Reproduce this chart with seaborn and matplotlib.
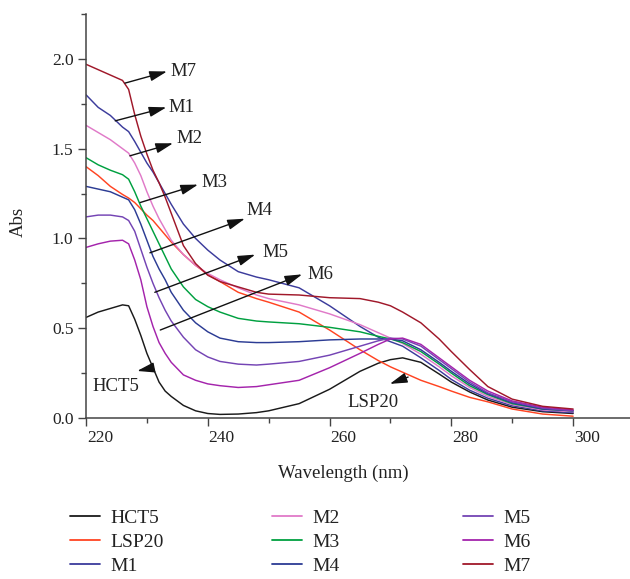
import numpy as np
import pandas as pd
import matplotlib
matplotlib.use('Agg')
import matplotlib.pyplot as plt
import matplotlib.transforms as mtransforms
from matplotlib.ticker import MultipleLocator
from matplotlib.lines import Line2D
import seaborn as sns

# wavelength grid (nm)
wavelength = [220, 222, 224, 226, 227, 228, 229, 230, 231, 232, 233, 234, 236, 238,
              240, 242, 245, 248, 250, 255, 260, 265, 268, 270, 272, 275, 278, 280,
              283, 286, 290, 295, 300]

hct5 = [0.56, 0.59, 0.61, 0.63, 0.625, 0.55, 0.46, 0.36, 0.28, 0.20, 0.15, 0.12, 0.07, 0.04,
        0.025, 0.02, 0.022, 0.03, 0.04, 0.08, 0.16, 0.26, 0.305, 0.325, 0.335, 0.31, 0.245, 0.20,
        0.145, 0.10, 0.06, 0.035, 0.025]
lsp20 = [1.40, 1.35, 1.29, 1.245, 1.225, 1.20, 1.165, 1.13, 1.10, 1.06, 1.02, 0.98, 0.91, 0.85,
         0.80, 0.76, 0.70, 0.665, 0.645, 0.59, 0.49, 0.38, 0.32, 0.285, 0.255, 0.21, 0.175, 0.15,
         0.115, 0.09, 0.05, 0.022, 0.01]
m1 = [1.80, 1.73, 1.685, 1.62, 1.595, 1.54, 1.48, 1.42, 1.37, 1.31, 1.25, 1.19, 1.08, 1.0,
      0.935, 0.88, 0.815, 0.785, 0.77, 0.725, 0.625, 0.51, 0.45, 0.425, 0.40, 0.335, 0.265, 0.215,
      0.155, 0.11, 0.068, 0.04, 0.03]
m2 = [1.63, 1.59, 1.55, 1.50, 1.475, 1.42, 1.35, 1.26, 1.18, 1.11, 1.05, 0.99, 0.91, 0.85,
      0.805, 0.77, 0.725, 0.685, 0.665, 0.63, 0.58, 0.52, 0.475, 0.445, 0.415, 0.355, 0.285, 0.235,
      0.17, 0.12, 0.075, 0.045, 0.035]
m3 = [1.45, 1.41, 1.38, 1.355, 1.33, 1.26, 1.18, 1.11, 1.04, 0.97, 0.90, 0.83, 0.73, 0.66,
      0.62, 0.59, 0.555, 0.54, 0.535, 0.525, 0.505, 0.48, 0.455, 0.44, 0.42, 0.37, 0.30, 0.25,
      0.18, 0.13, 0.08, 0.05, 0.04]
m4 = [1.29, 1.275, 1.26, 1.23, 1.215, 1.16, 1.08, 0.99, 0.90, 0.83, 0.77, 0.70, 0.60, 0.53,
      0.48, 0.445, 0.425, 0.42, 0.42, 0.425, 0.435, 0.44, 0.44, 0.44, 0.43, 0.38, 0.31, 0.26,
      0.19, 0.135, 0.085, 0.05, 0.04]
m5 = [1.12, 1.13, 1.13, 1.12, 1.10, 1.04, 0.94, 0.84, 0.75, 0.67, 0.60, 0.54, 0.45, 0.38,
      0.34, 0.315, 0.30, 0.295, 0.30, 0.315, 0.35, 0.40, 0.43, 0.445, 0.44, 0.40, 0.325, 0.275,
      0.20, 0.14, 0.09, 0.055, 0.04]
m6 = [0.95, 0.97, 0.985, 0.99, 0.97, 0.88, 0.77, 0.62, 0.51, 0.42, 0.36, 0.31, 0.24, 0.21,
      0.19, 0.18, 0.17, 0.175, 0.185, 0.21, 0.28, 0.36, 0.41, 0.44, 0.445, 0.41, 0.335, 0.285,
      0.21, 0.15, 0.095, 0.06, 0.045]
m7 = [1.97, 1.94, 1.91, 1.88, 1.83, 1.69, 1.57, 1.47, 1.38, 1.31, 1.23, 1.14, 0.96, 0.86,
      0.795, 0.76, 0.73, 0.70, 0.69, 0.685, 0.67, 0.665, 0.645, 0.625, 0.59, 0.53, 0.44, 0.37,
      0.27, 0.175, 0.105, 0.065, 0.05]

names = ['HCT5', 'LSP20', 'M1', 'M2', 'M3', 'M4', 'M5', 'M6', 'M7']
series = [hct5, lsp20, m1, m2, m3, m4, m5, m6, m7]
colors = ['#1a1a1a', '#ff4422', '#3c3c9c', '#e07ac8', '#00a040',
          '#2c3c94', '#7444b4', '#a424ac', '#a0182a']

# label text position, arrow start (on curve), arrow tip
labels = {
    'M7': ((233.8, 1.93), (226.4, 1.865), (233.3, 1.93)),
    'M1': ((233.6, 1.73), (224.8, 1.655), (233.2, 1.73)),
    'M2': ((234.8, 1.555), (227.2, 1.46), (234.3, 1.53)),
    'M3': ((239.0, 1.31), (228.9, 1.20), (238.4, 1.30)),
    'M4': ((246.4, 1.155), (230.5, 0.92), (246.1, 1.11)),
    'M5': ((248.9, 0.92), (231.3, 0.70), (247.8, 0.91)),
    'M6': ((256.4, 0.80), (232.2, 0.49), (255.5, 0.80)),
    'HCT5': ((221.1, 0.173), (231.0, 0.28), (228.4, 0.262)),
    'LSP20': ((262.9, 0.089), (272.9, 0.228), (269.9, 0.19)),
}

df = pd.concat([pd.DataFrame({'Wavelength': wavelength, 'Abs': s, 'Sample': n})
                for n, s in zip(names, series)], ignore_index=True)

sns.set_theme(style='ticks')
plt.rcParams['font.family'] = ['Liberation Serif', 'DejaVu Serif']

fig = plt.figure(figsize=(6.3, 5.79), dpi=100)
ax = fig.add_axes([86 / 630, 1 - 418 / 579, 548 / 630, 404 / 579])

sns.lineplot(data=df, x='Wavelength', y='Abs', hue='Sample', hue_order=names,
             palette=dict(zip(names, colors)), linewidth=1.05, legend=False, ax=ax)

ax.set_xlim(220, 310)
ax.set_ylim(0, 2.25)
ax.xaxis.set_major_locator(MultipleLocator(20))
ax.xaxis.set_minor_locator(MultipleLocator(10))
ax.yaxis.set_major_locator(MultipleLocator(0.5))
ax.yaxis.set_minor_locator(MultipleLocator(0.25))
ax.yaxis.set_major_formatter(matplotlib.ticker.FormatStrFormatter('%.1f'))
sns.despine(ax=ax)
for sp in ['left', 'bottom']:
    ax.spines[sp].set_color('#444444')
    ax.spines[sp].set_linewidth(1.1)
ax.tick_params(which='major', length=6, width=1, color='#444444',
               labelsize=12.5, labelcolor='#222222', pad=3)
ax.tick_params(which='minor', length=3.5, width=1, color='#444444')

# x tick labels sit a bit to the right of their ticks in the original
offset = mtransforms.ScaledTranslation(14 / 100, 0, fig.dpi_scale_trans)
for lab in ax.get_xticklabels():
    lab.set_transform(lab.get_transform() + offset)

ax.set_xlabel('Wavelength (nm)', fontsize=13.5, color='#222222')
ax.set_ylabel('Abs', fontsize=13.5, color='#222222')
ax.xaxis.set_label_coords(0.47, -0.115)
ax.yaxis.set_label_coords(-0.108, 0.485)

for name, (txt, start, tip) in labels.items():
    ax.annotate('', xy=tip, xytext=start,
                arrowprops=dict(arrowstyle='-|>,head_length=0.75,head_width=0.22',
                                mutation_scale=14, color='#111111', lw=1.0,
                                shrinkA=0, shrinkB=0))
    ax.text(txt[0], txt[1], name, fontsize=13.5, color='#222222',
            ha='left', va='center')

# legend in three fixed columns
handles = [Line2D([], [], color=c, lw=1.3) for c in colors]
col_x = [70 / 630, 272 / 630, 463 / 630]
for i, x0 in enumerate(col_x):
    leg = fig.legend(handles[3 * i:3 * i + 3], names[3 * i:3 * i + 3],
                     loc='upper left', bbox_to_anchor=(x0, 1 - 509 / 579),
                     frameon=False, fontsize=14, handlelength=1.55,
                     handletextpad=0.55, labelspacing=0.33, borderpad=0,
                     borderaxespad=0)
    for t in leg.get_texts():
        t.set_color('#222222')

fig.savefig('out.png', dpi=100)
